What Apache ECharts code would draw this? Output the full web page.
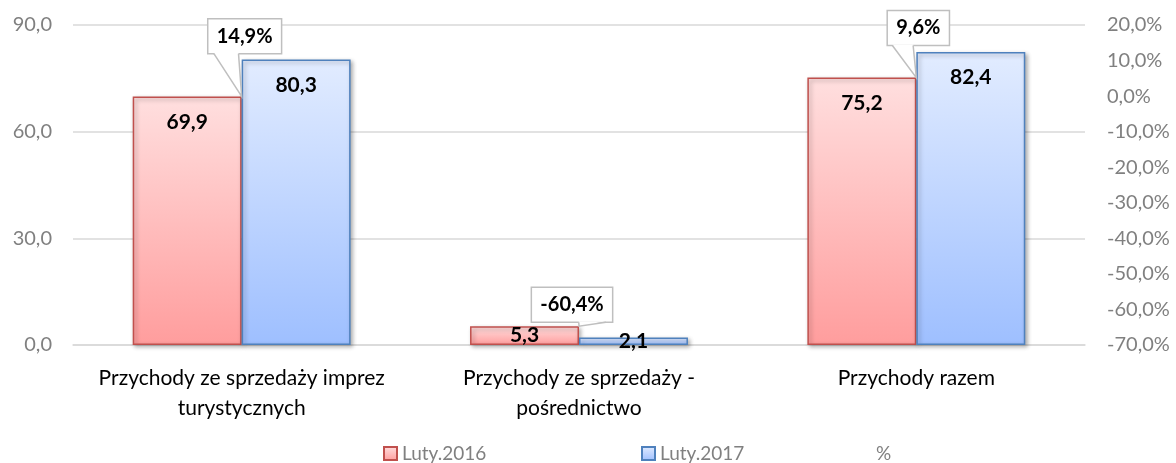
<!DOCTYPE html>
<html><head><meta charset="utf-8">
<script src="https://cdn.jsdelivr.net/npm/echarts@6/dist/echarts.min.js"></script>
<style>html,body{margin:0;padding:0;background:#fff}#c{width:1176px;height:463px}</style>
</head><body><div id="c"></div>
<script>
// ---- data ----
const categories = ['Przychody ze sprzedaży imprez\nturystycznych', 'Przychody ze sprzedaży -\npośrednictwo', 'Przychody razem'];
const luty2016 = [69.9, 5.3, 75.2];
const luty2017 = [80.3, 2.1, 82.4];
const pctChange = [14.9, -60.4, 9.6];
const seriesNames = ['Luty.2016', 'Luty.2017', '%'];
const leftTicks = { min: 0, max: 90, interval: 30 };
const rightTicks = { min: -70, max: 20, interval: 10 };

// ---- layout / style config ----
const FONT = 'Lato';
const calloutShift = [[3, -7], [-7, -6], [2, -34]];
const fmt = v => v.toFixed(1).replace('.', ',');
const ctx = document.createElement('canvas').getContext('2d');
function measure(t, font) { ctx.font = font; return ctx.measureText(t).width; }

const chart = echarts.init(document.getElementById('c'), null, { renderer: 'canvas' });

function grad(c0, c1) {
  return new echarts.graphic.LinearGradient(0, 0, 0, 1, [{ offset: 0, color: c0 }, { offset: 1, color: c1 }]);
}
function barData(arr) {
  return arr.map(v => v < 10 ? { value: v, label: { position: 'inside' } } : v);
}
const barLabel = {
  show: true, position: 'insideTop', distance: 15,
  formatter: p => fmt(p.value),
  fontFamily: FONT, fontWeight: 'bold', fontSize: 21, color: '#000'
};

function renderCallout(params, api) {
  const i = api.value(0);
  const pt = api.coord([i, api.value(1)]);
  const tipR = rightTicks.min + (api.value(2) - leftTicks.min) * (rightTicks.max - rightTicks.min) / (leftTicks.max - leftTicks.min);
  const tip = api.coord([i, tipR]);
  const txt = fmt(api.value(1)) + '%';
  const font = 'bold 20px ' + FONT;
  const w = measure(txt, font) + 18, h = 35;
  const sh = calloutShift[params.dataIndex];
  const cx = pt[0] + sh[0], cy = pt[1] + sh[1];
  const x0 = cx - w / 2, y0 = cy - h / 2, y1 = y0 + h;
  const left = tip[0] < cx;
  const b1 = x0 + w * (left ? 1 : 7) / 12, b2 = x0 + w * (left ? 5 : 11) / 12;
  return {
    type: 'group', children: [
      { type: 'rect', shape: { x: x0, y: y0, width: w, height: h }, style: { fill: '#fff', stroke: '#BFBFBF', lineWidth: 1.5 } },
      { type: 'polygon', shape: { points: [[b1, y1 - 1], [tip[0], tip[1]], [b2, y1 - 1]] }, style: { fill: '#fff' } },
      { type: 'polyline', shape: { points: [[b1, y1], [tip[0], tip[1]], [b2, y1]] }, style: { fill: null, stroke: '#BFBFBF', lineWidth: 1.5 } },
      { type: 'text', style: { text: txt, x: cx, y: cy, align: 'center', verticalAlign: 'middle', font: font, fill: '#000' } }
    ]
  };
}

const legendText = { fontFamily: FONT, fontSize: 19, color: '#808080' };
const option = {
  animation: false,
  backgroundColor: '#fff',
  grid: { left: 73, right: 91, top: 25, bottom: 118 },
  legend: [
    { data: [{ name: seriesNames[0], icon: 'rect' }], left: 378, top: 439, itemWidth: 13, itemHeight: 13, itemGap: 4, textStyle: legendText },
    { data: [{ name: seriesNames[1], icon: 'rect' }], left: 636, top: 439, itemWidth: 13, itemHeight: 13, itemGap: 4, textStyle: legendText },
    { data: [{ name: seriesNames[2], icon: 'none' }], left: 853, top: 439, itemWidth: 13, itemHeight: 13, itemGap: 4, textStyle: legendText }
  ],
  xAxis: {
    type: 'category', data: categories,
    axisLine: { lineStyle: { color: '#D9D9D9', width: 1.5 } },
    axisTick: { show: false },
    axisLabel: { margin: 18, lineHeight: 30, fontFamily: FONT, fontSize: 21, color: '#000', interval: 0 }
  },
  yAxis: [
    {
      type: 'value', min: leftTicks.min, max: leftTicks.max, interval: leftTicks.interval,
      axisLine: { show: false }, axisTick: { show: false },
      splitLine: { lineStyle: { color: '#D9D9D9', width: 1.5 } },
      axisLabel: { margin: 21, formatter: v => fmt(v), fontFamily: FONT, fontSize: 20, color: '#808080' }
    },
    {
      type: 'value', min: rightTicks.min, max: rightTicks.max, interval: rightTicks.interval,
      axisLine: { show: false }, axisTick: { show: false }, splitLine: { show: false },
      axisLabel: { margin: 22, formatter: v => fmt(v) + '%', fontFamily: FONT, fontSize: 20, color: '#808080' }
    }
  ],
  series: [
    {
      name: seriesNames[0], type: 'bar', data: barData(luty2016), barGap: '0%', barCategoryGap: '35.4%',
      itemStyle: { color: grad('#FFDFDF', '#FF9D9D'), borderColor: '#C0504D', borderWidth: 1.5,
        shadowColor: 'rgba(0,0,0,0.3)', shadowBlur: 4, shadowOffsetX: 2, shadowOffsetY: 2 },
      label: barLabel
    },
    {
      name: seriesNames[1], type: 'bar', data: barData(luty2017),
      itemStyle: { color: grad('#E2ECFF', '#9EBFFF'), borderColor: '#4F81BD', borderWidth: 1.5,
        shadowColor: 'rgba(0,0,0,0.3)', shadowBlur: 4, shadowOffsetX: 2, shadowOffsetY: 2 },
      label: barLabel
    },
    {
      name: seriesNames[2], type: 'custom', yAxisIndex: 1, z: 10,
      itemStyle: { color: 'transparent' },
      encode: { x: 0, y: 1 },
      data: pctChange.map((p, i) => [i, p, luty2016[i]]),
      renderItem: renderCallout
    }
  ]
};
chart.setOption(option);
</script>
</body></html>
